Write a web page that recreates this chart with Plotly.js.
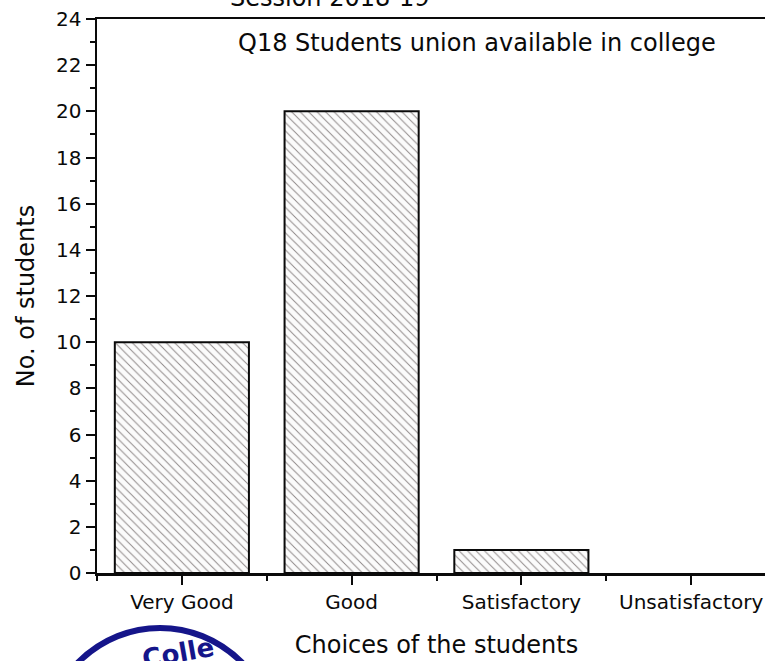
<!DOCTYPE html>
<html>
<head>
<meta charset="utf-8">
<script src="https://cdn.plot.ly/plotly-3.0.1.min.js"></script>
<style>
html,body{margin:0;padding:0;overflow:hidden;background:#fff;width:765px;height:661px;}
#chart{width:800px;height:661px;}
</style>
</head>
<body>
<div id="chart"></div>
<script>
const categories = ["Very Good", "Good", "Satisfactory", "Unsatisfactory"];
const students = [10, 20, 1, 0];
const chartTitle = "Q18 Students union available in college";
const sessionText = "Session 2018-19";
const xTitle = "Choices of the students";
const yTitle = "No. of students";
const stampText = "Colle";

const idx = categories.map((c, i) => i);
const FONT = "'DejaVu Sans', sans-serif";
const INK = "#0a0a0a";

const trace = {
  type: "bar",
  x: idx,
  y: students,
  width: 0.79,
  marker: {
    color: "#ffffff",
    line: {color: INK, width: students.map(v => v > 0 ? 2 : 0)},
    pattern: {shape: "\\", fgcolor: "#8f8989", bgcolor: "#fbfbfb", size: 6, solidity: 0.16}
  },
  hoverinfo: "skip"
};

const layout = {
  width: 800,
  height: 661,
  margin: {l: 97, r: 24, t: 19, b: 88},
  paper_bgcolor: "#ffffff",
  plot_bgcolor: "#ffffff",
  showlegend: false,
  font: {family: FONT, color: INK},
  xaxis: {
    range: [-0.5, 3.5],
    tickmode: "array",
    tickvals: idx,
    ticktext: categories,
    ticks: "outside",
    ticklen: 9,
    tickwidth: 2,
    tickcolor: INK,
    showline: true,
    linecolor: INK,
    linewidth: 2.5,
    mirror: true,
    showgrid: false,
    zeroline: false,
    tickfont: {size: 20, family: FONT, color: INK},
    minor: {tickmode: "array", tickvals: [-0.5, 0.5, 1.5, 2.5], ticks: "outside", ticklen: 5, tickwidth: 2, tickcolor: INK},
    title: {text: xTitle, font: {size: 24, family: FONT, color: INK}, standoff: 24}
  },
  yaxis: {
    range: [0, 24],
    tickmode: "linear",
    tick0: 0,
    dtick: 2,
    ticks: "outside",
    ticklen: 9,
    tickwidth: 2,
    tickcolor: INK,
    showline: true,
    linecolor: INK,
    linewidth: 2.5,
    mirror: true,
    showgrid: false,
    zeroline: false,
    tickfont: {size: 20, family: FONT, color: INK},
    minor: {dtick: 1, ticks: "outside", ticklen: 5, tickwidth: 2, tickcolor: INK},
    title: {text: yTitle, font: {size: 24, family: FONT, color: INK}, standoff: 15}
  },
  annotations: [
    {text: chartTitle, xref: "paper", yref: "paper", x: (477 - 97) / 679, y: (573 - 43) / 554,
     xanchor: "center", yanchor: "middle", showarrow: false, font: {size: 24, family: FONT, color: INK}},
    {text: sessionText, xref: "paper", yref: "paper", x: (329 - 97) / 679, y: (573 - 14) / 554,
     xanchor: "center", yanchor: "bottom", showarrow: false, font: {size: 24, family: FONT, color: INK}},
    {text: "<b>" + stampText + "</b>", xref: "paper", yref: "paper", x: (178 - 97) / 679, y: (573 - 653) / 554,
     xanchor: "center", yanchor: "middle", showarrow: false, textangle: -10, font: {size: 26, family: FONT, color: "#15158a"}}
  ],
  shapes: [
    {type: "circle", xref: "paper", yref: "paper",
     x0: (45 - 97) / 679, x1: (275 - 97) / 679, y0: (573 - 860) / 554, y1: (573 - 628) / 554,
     line: {color: "#15158a", width: 6}, fillcolor: "rgba(0,0,0,0)"}
  ]
};

Plotly.newPlot("chart", [trace], layout, {displayModeBar: false, staticPlot: true});
</script>
</body>
</html>
